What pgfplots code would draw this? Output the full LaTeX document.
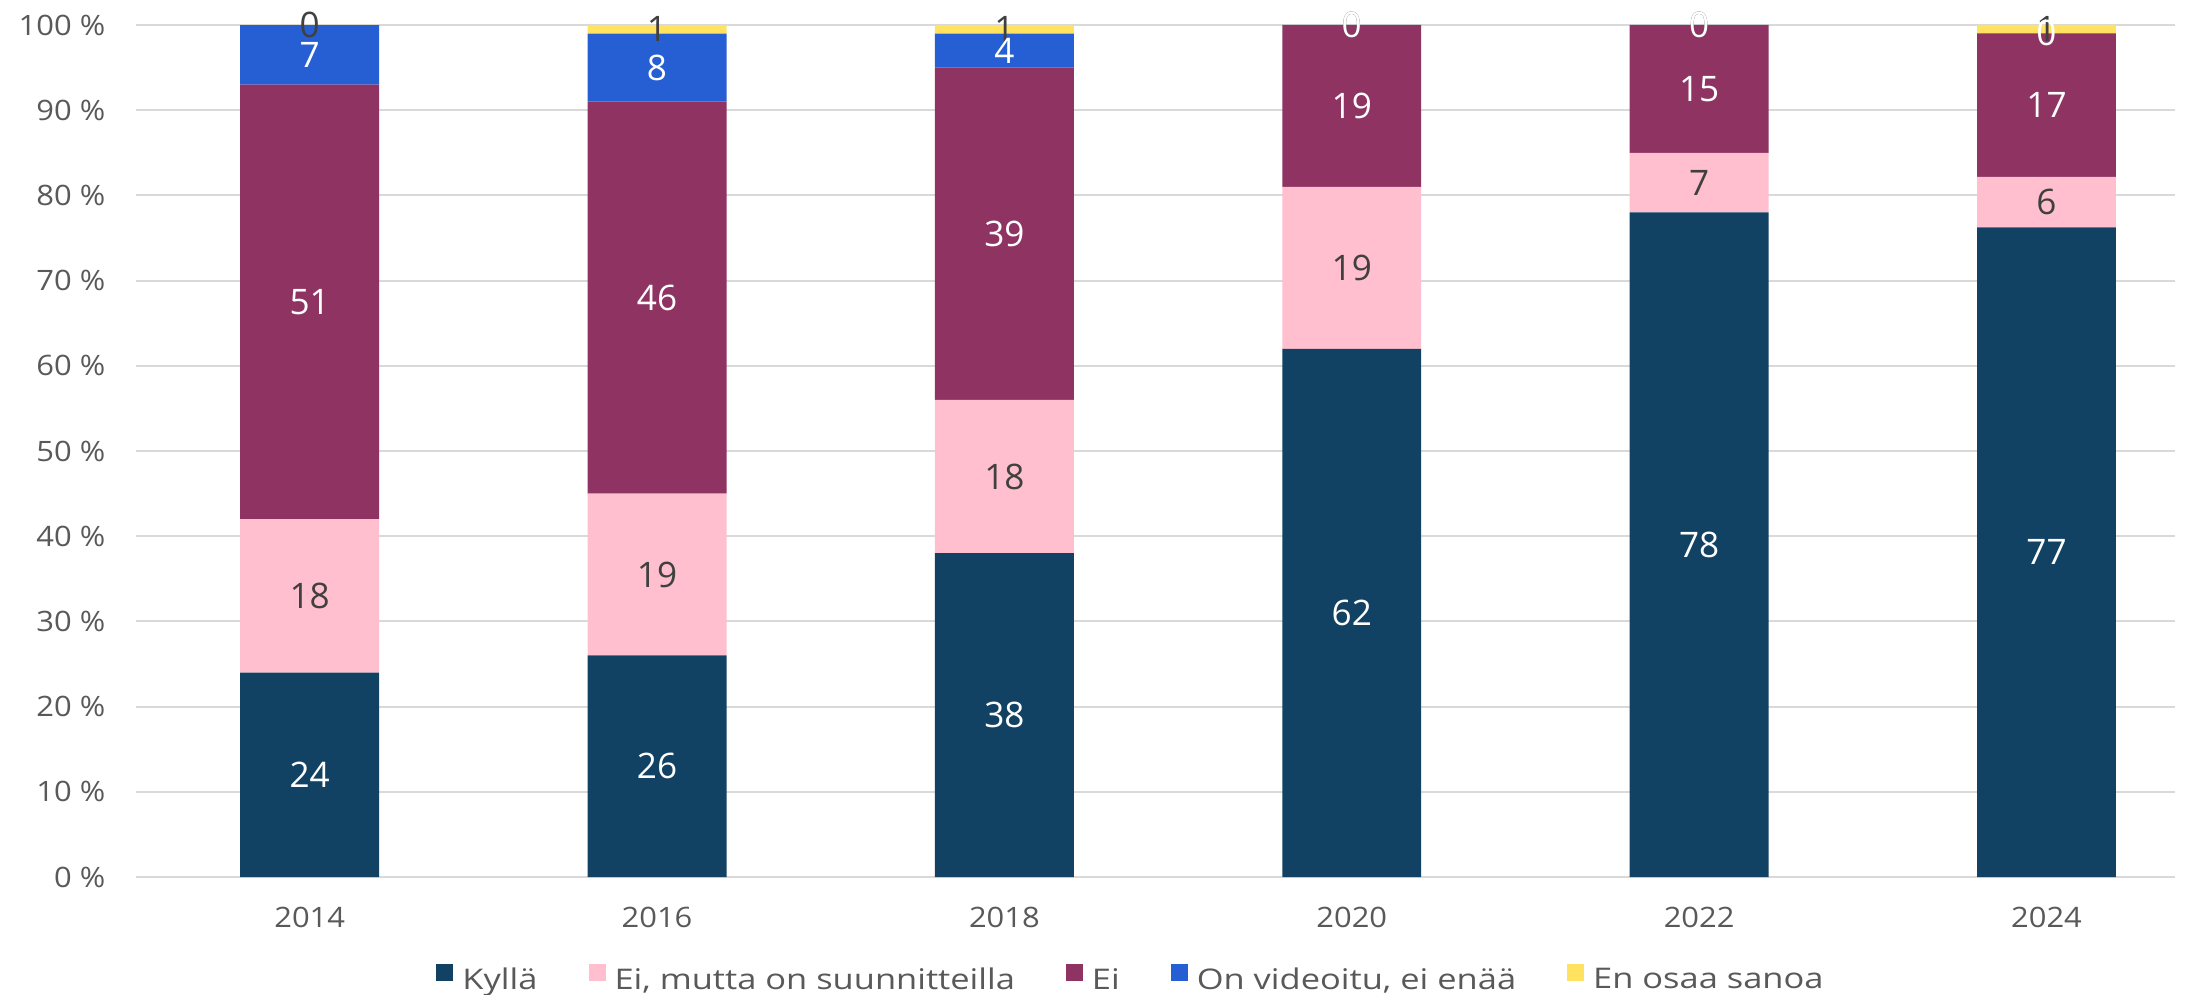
\documentclass[border=0pt]{standalone}
\usepackage{fontspec}
\setmainfont{Open Sans}
\newfontfamily\widefont[FakeStretch=1.1]{Open Sans}
\newfontfamily\legfont[FakeStretch=1.21]{Open Sans}
\usepackage{pgfplots}
\usepackage{pgfplotstable}
\pgfplotsset{compat=1.18}

\definecolor{cNavy}{HTML}{124263}
\definecolor{cPink}{HTML}{FFBFCF}
\definecolor{cPurple}{HTML}{8F3363}
\definecolor{cBlue}{HTML}{265ED3}
\definecolor{cYellow}{HTML}{FFE260}
\definecolor{cTick}{HTML}{595959}
\definecolor{cLab}{HTML}{404040}
\definecolor{cGrid}{HTML}{D9D9D9}

% 2024 sums to 101 -> shares normalised to 100, labels keep the rounded values
% zeros kept as 0.001 so that their "0" labels are still drawn
\pgfplotstableread{
x v lab
0 24 24
1 26 26
2 38 38
3 62 62
4 78 78
5 76.238 77
}\kylla
\pgfplotstableread{
x v lab
0 18 18
1 19 19
2 18 18
3 19 19
4 7 7
5 5.941 6
}\eimutta
\pgfplotstableread{
x v lab
0 51 51
1 46 46
2 39 39
3 19 19
4 15 15
5 16.832 17
}\ei
\pgfplotstableread{
x v lab
0 7 7
1 8 8
2 4 4
3 0.001 0
4 0.001 0
5 0.001 0
}\video
\pgfplotstableread{
x v lab
0 0.001 0
1 1 1
2 1 1
3 0.001 0
4 0.001 0
5 0.990 1
}\eos

\pgfplotsset{
  segm/.style n args={2}{fill=#1,draw=none,
    legend image code/.code={\fill[#1] (0cm,0cm) rectangle (1.7mm,1.7mm);},
    every node near coord/.append style={text=#2}},
}

\begin{document}
\begin{tikzpicture}
\begin{axis}[
  width=20.39cm,height=8.52cm,scale only axis,
  ybar stacked,bar width=0.4,
  xmin=-0.5,xmax=5.37,ymin=0,ymax=100,
  clip=false,
  axis line style={draw=none},
  major tick length=0pt,
  xtick={0,1,2,3,4,5},
  xticklabels={2014,2016,2018,2020,2022,2024},
  ytick={0,10,...,100},
  yticklabel={\pgfmathprintnumber{\tick}~\%},
  /pgf/number format/assume math mode=true,
  ymajorgrids,grid style={cGrid,line width=0.6pt},
  tick label style={font=\widefont\fontsize{8}{9}\selectfont,text=cTick,inner sep=0pt},
  xticklabel style={anchor=north,yshift=-2.9mm},
  yticklabel style={anchor=east,xshift=-3mm},
  point meta=explicit,
  nodes near coords={\pgfmathprintnumber{\pgfplotspointmeta}},
  every node near coord/.append style={anchor=center,
    font=\fontsize{10}{12}\selectfont},
  legend columns=-1,
  legend style={draw=none,fill=none,inner sep=0pt,outer sep=0pt,
    at={(0.4875,-0.1203)},anchor=center,
    nodes={inner sep=0pt,font=\legfont\fontsize{8.1}{10}\selectfont,text=cTick},
    /tikz/every even column/.append style={column sep=5.1mm},
    /tikz/every odd column/.append style={column sep=0.9mm}},
]
\addplot[segm={cNavy}{white}] table[x=x,y=v,meta=lab] {\kylla};
\addplot[segm={cPink}{cLab}] table[x=x,y=v,meta=lab] {\eimutta};
\addplot[segm={cPurple}{white}] table[x=x,y=v,meta=lab] {\ei};
\addplot[segm={cBlue}{white}] table[x=x,y=v,meta=lab] {\video};
\addplot[segm={cYellow}{cLab}] table[x=x,y=v,meta=lab] {\eos};
\legend{Kyllä,{Ei, mutta on suunnitteilla},Ei,{On videoitu, ei enää},En osaa sanoa}
\end{axis}
\path[use as bounding box] ([shift={(-1.36cm,-1.17cm)}]current axis.south west)
  rectangle ([shift={(0.28cm,0.25cm)}]current axis.north east);
\end{tikzpicture}
\end{document}
